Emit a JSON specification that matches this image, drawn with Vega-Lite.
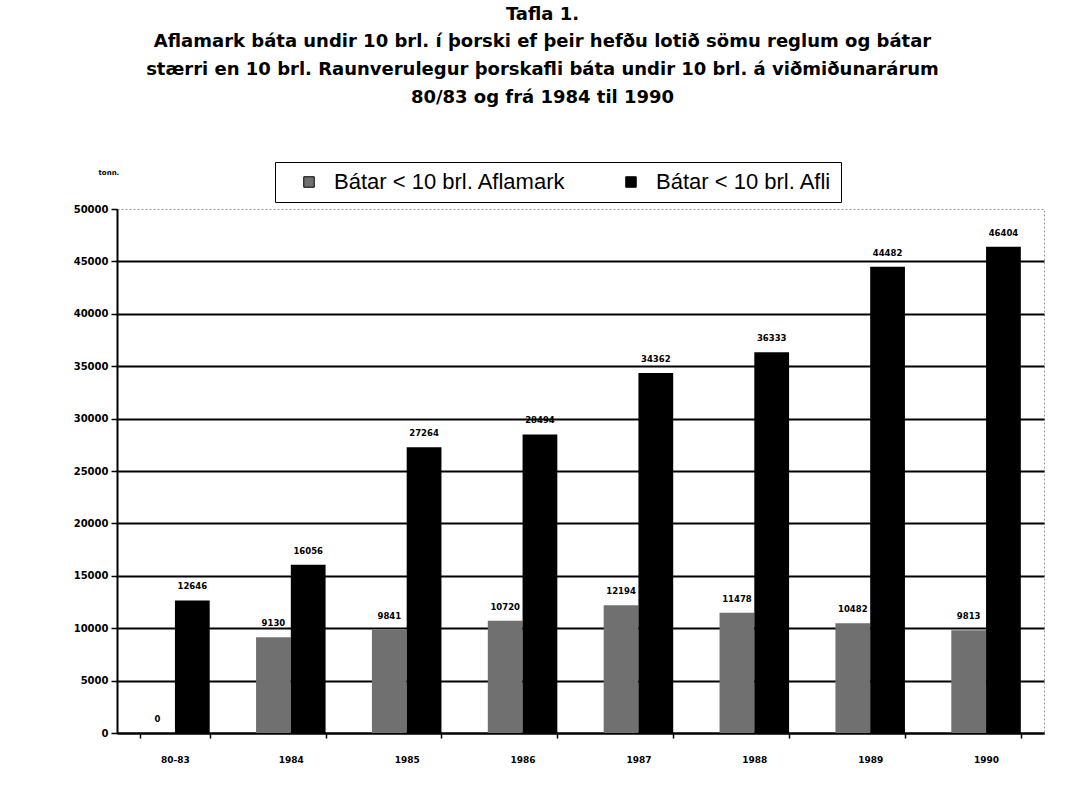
{
  "$schema": "https://vega.github.io/schema/vega-lite/v6.json",
  "width": 927,
  "height": 524,
  "autosize": "none",
  "padding": {"left": 117, "top": 209, "right": 39, "bottom": 59},
  "background": "white",
  "title": {
    "text": "Tafla 1.",
    "subtitle": [
      "Aflamark báta undir 10 brl. í þorski ef þeir hefðu lotið sömu reglum og bátar",
      "stærri en 10 brl.  Raunverulegur þorskafli báta  undir 10 brl. á viðmiðunarárum",
      "80/83 og frá 1984 til 1990"
    ],
    "anchor": "middle",
    "frame": "group",
    "dx": -38,
    "offset": 55,
    "font": "DejaVu Sans",
    "fontSize": 18,
    "fontWeight": "bold",
    "color": "black",
    "subtitleFont": "DejaVu Sans",
    "subtitleFontSize": 18,
    "subtitleFontWeight": "bold",
    "subtitleColor": "black",
    "subtitleLineHeight": 28,
    "subtitlePadding": 9
  },
  "data": {
    "values": [
      {"period": "80-83", "series": "Bátar < 10 brl. Aflamark", "tonn": 0},
      {"period": "80-83", "series": "Bátar < 10 brl. Afli", "tonn": 12646},
      {"period": "1984", "series": "Bátar < 10 brl. Aflamark", "tonn": 9130},
      {"period": "1984", "series": "Bátar < 10 brl. Afli", "tonn": 16056},
      {"period": "1985", "series": "Bátar < 10 brl. Aflamark", "tonn": 9841},
      {"period": "1985", "series": "Bátar < 10 brl. Afli", "tonn": 27264},
      {"period": "1986", "series": "Bátar < 10 brl. Aflamark", "tonn": 10720},
      {"period": "1986", "series": "Bátar < 10 brl. Afli", "tonn": 28494},
      {"period": "1987", "series": "Bátar < 10 brl. Aflamark", "tonn": 12194},
      {"period": "1987", "series": "Bátar < 10 brl. Afli", "tonn": 34362},
      {"period": "1988", "series": "Bátar < 10 brl. Aflamark", "tonn": 11478},
      {"period": "1988", "series": "Bátar < 10 brl. Afli", "tonn": 36333},
      {"period": "1989", "series": "Bátar < 10 brl. Aflamark", "tonn": 10482},
      {"period": "1989", "series": "Bátar < 10 brl. Afli", "tonn": 44482},
      {"period": "1990", "series": "Bátar < 10 brl. Aflamark", "tonn": 9813},
      {"period": "1990", "series": "Bátar < 10 brl. Afli", "tonn": 46404}
    ]
  },
  "encoding": {
    "x": {
      "field": "period",
      "type": "nominal",
      "sort": null,
      "scale": {"paddingInner": 0.4, "paddingOuter": 0.2},
      "axis": {
        "title": null,
        "labelAngle": 0,
        "labelFont": "DejaVu Sans",
        "labelFontSize": 9,
        "labelFontWeight": "bold",
        "labelColor": "black",
        "labelPadding": 17,
        "tickBand": "extent",
        "tickSize": 5,
        "tickColor": "black",
        "tickWidth": 1.5,
        "domainColor": "black",
        "domainWidth": 2,
        "grid": false
      }
    },
    "xOffset": {
      "field": "series",
      "type": "nominal",
      "scale": {"domain": ["Bátar < 10 brl. Aflamark", "Bátar < 10 brl. Afli"], "paddingInner": 0, "paddingOuter": 0}
    },
    "y": {
      "field": "tonn",
      "type": "quantitative",
      "scale": {"domain": [0, 50000], "nice": false},
      "axis": {
        "title": "tonn.",
        "titleAngle": 0,
        "titleAlign": "left",
        "titleBaseline": "middle",
        "titleX": -19,
        "titleY": -37,
        "titleFont": "DejaVu Sans",
        "titleFontSize": 7,
        "titleFontWeight": "bold",
        "titleColor": "black",
        "values": [0, 5000, 10000, 15000, 20000, 25000, 30000, 35000, 40000, 45000, 50000],
        "format": "d",
        "labelFont": "DejaVu Sans",
        "labelFontSize": 10,
        "labelFontWeight": "bold",
        "labelColor": "black",
        "labelPadding": 3,
        "tickSize": 6,
        "tickColor": "black",
        "tickWidth": 1.5,
        "domainColor": "black",
        "domainWidth": 2,
        "grid": true,
        "gridColor": {"condition": {"test": "datum.value == 50000", "value": "transparent"}, "value": "black"},
        "gridWidth": 2
      }
    }
  },
  "layer": [
    {
      "mark": {"type": "bar"},
      "encoding": {
        "color": {
          "field": "series",
          "type": "nominal",
          "scale": {"domain": ["Bátar < 10 brl. Aflamark", "Bátar < 10 brl. Afli"], "range": ["#707070", "black"]},
          "legend": {
            "title": null,
            "orient": "none",
            "legendX": 158,
            "legendY": -47,
            "direction": "horizontal",
            "strokeColor": "black",
            "fillColor": "white",
            "padding": 9,
            "labelFont": "Liberation Sans",
            "labelFontSize": 22,
            "labelColor": "black",
            "labelLimit": 0,
            "labelOffset": 14,
            "symbolType": "square",
            "symbolSize": 110,
            "symbolStrokeColor": "black",
            "symbolStrokeWidth": 1,
            "symbolOffset": 14,
            "columnPadding": 40
          }
        }
      }
    },
    {
      "mark": {"type": "text", "dy": -9, "font": "DejaVu Sans", "fontSize": 8.5, "fontWeight": "bold", "color": "black", "baseline": "bottom"},
      "encoding": {
        "text": {"field": "tonn", "type": "quantitative", "format": "d"}
      }
    }
  ],
  "config": {
    "view": {"stroke": "#9a9a9a", "strokeDash": [2, 2], "strokeWidth": 1}
  }
}
